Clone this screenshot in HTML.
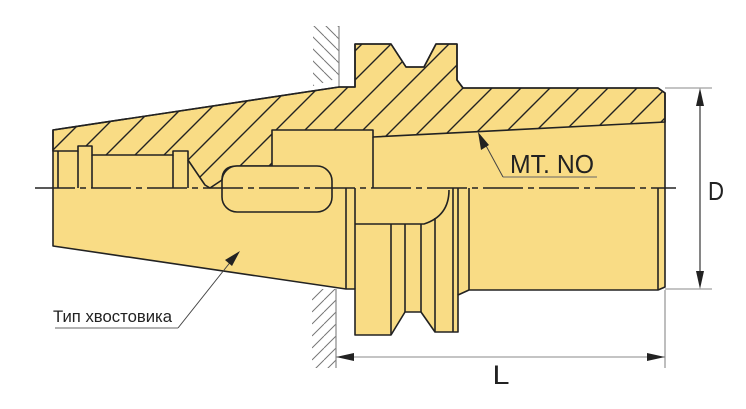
<!DOCTYPE html>
<html><head><meta charset="utf-8"><style>html,body{margin:0;padding:0;background:#fff}svg{display:block}</style></head>
<body>
<svg width="746" height="409" viewBox="0 0 746 409" xmlns="http://www.w3.org/2000/svg">
<defs>
<pattern id="h" patternUnits="userSpaceOnUse" width="29" height="29">
<path d="M-7,7 L7,-7 M0,29 L29,0 M22,36 L36,22" stroke="#222" stroke-width="1.4"/>
</pattern>
<pattern id="w" patternUnits="userSpaceOnUse" width="12" height="12">
<path d="M0,0 L12,12 M-6,6 L6,18 M6,-6 L18,6" stroke="#777" stroke-width="1"/>
</pattern>
<pattern id="w2" patternUnits="userSpaceOnUse" width="12" height="12">
<path d="M0,12 L12,0 M-6,6 L6,-6 M6,18 L18,6" stroke="#777" stroke-width="1"/>
</pattern>
<pattern id="wa" patternUnits="userSpaceOnUse" width="12" height="12">
<path d="M0,0 L12,12 M-12,0 L0,12 M12,0 L24,12" stroke="#777" stroke-width="1"/>
</pattern>
<pattern id="wb" patternUnits="userSpaceOnUse" width="12" height="12">
<path d="M0,12 L12,0 M-12,12 L0,0 M12,12 L24,0" stroke="#777" stroke-width="1"/>
</pattern>
</defs>
<!-- wall hatching -->
<rect x="313" y="26" width="26" height="61" fill="url(#wa)"/>
<rect x="312" y="289" width="24" height="79" fill="url(#wb)"/>
<polygon points="300,87 339,87 339,78 300,90" fill="#fff"/>
<line x1="339" y1="26" x2="339" y2="87" stroke="#888" stroke-width="1.2"/>
<line x1="336" y1="289" x2="336" y2="368" stroke="#888" stroke-width="1.2"/>
<!-- body fill -->
<polygon points="53,130 339,87 355,87 355,44 391,44 406,67 424,67 436,44 457,44 457,80 463,88 658,88 665,93 665,287 658,290 469,290 458,295 458,332 435,332 421,312 405,312 391,335 355,335 355,289 346,289 53,246" fill="#F9DC85" stroke="#222" stroke-width="1.6" stroke-linejoin="round"/>
<!-- hatched section -->
<path d="M53,130 L339,87 L355,87 L355,44 L391,44 L406,67 L424,67 L436,44 L457,44 L457,80 L463,88 L658,88 L665,93 L665,122 L373,137 L373,130 L272,130 L272,166 L237,166 Q222,166 222,180 L210,188 L205,185 L188,160 L188,151 L173,151 L173,155 L92,155 L92,146 L78,146 L78,151 L53,151 Z" fill="url(#h)" stroke="#222" stroke-width="1.6" stroke-linejoin="round"/>
<g stroke="#222" stroke-width="1.6" fill="none">
<line x1="58" y1="151" x2="58" y2="188"/>
<line x1="78" y1="151" x2="78" y2="188"/>
<line x1="92" y1="155" x2="92" y2="188"/>
<line x1="173" y1="155" x2="173" y2="188"/>
<line x1="188" y1="160" x2="188" y2="188"/>
<line x1="373" y1="137" x2="373" y2="188"/>
<rect x="222" y="166" width="110" height="46" rx="15" fill="#F9DC85"/>
<line x1="346" y1="188" x2="346" y2="289"/>
<line x1="355" y1="188" x2="355" y2="289"/>
<path d="M355,224 L424,224 Q449,216 449,190"/>
<line x1="391" y1="224" x2="391" y2="335"/>
<line x1="405" y1="224" x2="405" y2="312"/>
<line x1="421" y1="224" x2="421" y2="312"/>
<line x1="435" y1="218" x2="435" y2="332"/>
<line x1="453" y1="188" x2="453" y2="332"/>
<line x1="458" y1="188" x2="458" y2="295"/>
<line x1="469" y1="188" x2="469" y2="290"/>
<line x1="658" y1="188" x2="658" y2="290"/>
</g>
<!-- centerline -->
<line x1="35" y1="188" x2="676" y2="188" stroke="#222" stroke-width="1.5" stroke-dasharray="40 5 6 5"/>
<!-- dimensions -->
<g stroke="#888" stroke-width="1.1">
<line x1="665" y1="88" x2="712" y2="88"/>
<line x1="665" y1="289" x2="712" y2="289"/>
<line x1="665" y1="290" x2="665" y2="368"/>
<line x1="336" y1="357" x2="665" y2="357"/>
</g>
<line x1="700" y1="92" x2="700" y2="285" stroke="#222" stroke-width="1.1"/>
<polygon points="700,88 696,106 704,106" fill="#222"/>
<polygon points="700,289 696,271 704,271" fill="#222"/>
<polygon points="336,357 354,353 354,361" fill="#222"/>
<polygon points="665,357 647,353 647,361" fill="#222"/>
<text x="716" y="200" font-family="Liberation Sans, sans-serif" font-size="26" fill="#222" text-anchor="middle" textLength="16" lengthAdjust="spacingAndGlyphs">D</text>
<text x="501" y="384" font-family="Liberation Sans, sans-serif" font-size="27" fill="#222" text-anchor="middle" textLength="17" lengthAdjust="spacingAndGlyphs">L</text>
<!-- MT. NO -->
<line x1="503" y1="177" x2="597" y2="177" stroke="#666" stroke-width="1"/>
<line x1="503" y1="177" x2="484" y2="142" stroke="#444" stroke-width="1"/>
<polygon points="478,132 481,150 489,145" fill="#222"/>
<text x="510" y="173" font-family="Liberation Sans, sans-serif" font-size="26" fill="#222" textLength="84" lengthAdjust="spacingAndGlyphs">MT. NO</text>
<!-- Tip -->
<line x1="55" y1="328" x2="178" y2="328" stroke="#666" stroke-width="1"/>
<line x1="178" y1="328" x2="232" y2="260" stroke="#444" stroke-width="1"/>
<polygon points="240,251 225,260 232,266" fill="#222"/>
<text x="53" y="322" font-family="Liberation Sans, 'Noto Sans CJK JP', sans-serif" font-size="17" fill="#222" textLength="119" lengthAdjust="spacingAndGlyphs">Тип хвостовика</text>
</svg>
</body></html>
